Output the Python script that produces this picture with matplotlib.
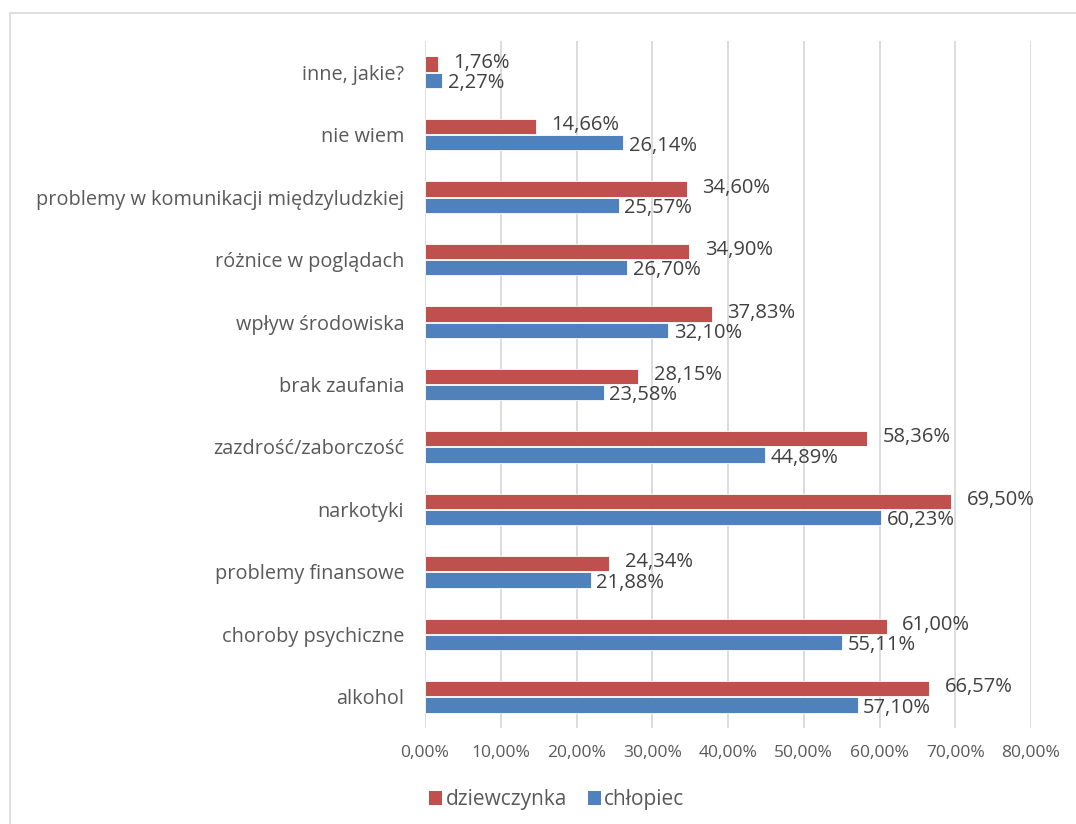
import matplotlib.pyplot as plt
from matplotlib.patches import Rectangle, Patch
import numpy as np

kategorie = ["alkohol", "choroby psychiczne", "problemy finansowe", "narkotyki",
             "zazdrość/zaborczość", "brak zaufania", "wpływ środowiska",
             "różnice w poglądach", "problemy w komunikacji międzyludzkiej",
             "nie wiem", "inne, jakie?"]
dziewczynka = [66.57, 61.00, 24.34, 69.50, 58.36, 28.15, 37.83, 34.90, 34.60, 14.66, 1.76]
chlopiec = [57.10, 55.11, 21.88, 60.23, 44.89, 23.58, 32.10, 26.70, 25.57, 26.14, 2.27]
ticks = [0, 10, 20, 30, 40, 50, 60, 70, 80]

czerwony = "#C0504D"
niebieski = "#4F81BD"
szary_txt = "#595959"

plt.rcParams['font.family'] = ['Open Sans', 'DejaVu Sans']

fig = plt.figure(figsize=(10.76, 8.24), dpi=100)
ax = fig.add_axes([425 / 1076, 1 - 728 / 824, (1031 - 425) / 1076, (728 - 41) / 824])

y = np.arange(len(kategorie))
h = 0.245
ax.barh(y + 0.13, dziewczynka, height=h, color=czerwony, edgecolor="white", linewidth=0.6,
        label="dziewczynka", zorder=3)
ax.barh(y - 0.13, chlopiec, height=h, color=niebieski, edgecolor="white", linewidth=0.6,
        label="chłopiec", zorder=3)

for yi, v in zip(y, dziewczynka):
    ax.annotate(f"{v:.2f}%".replace(".", ","), (v, yi + 0.13), xytext=(11, 1),
                textcoords="offset points", va="center", ha="left", fontsize=14.5, color="#404040")
for yi, v in zip(y, chlopiec):
    ax.annotate(f"{v:.2f}%".replace(".", ","), (v, yi - 0.13), xytext=(4, -2),
                textcoords="offset points", va="center", ha="left", fontsize=14.5, color="#404040")

ax.set_xlim(0, 80)
ax.set_ylim(-0.5, len(kategorie) - 0.5)
ax.set_xticks(ticks)
ax.set_xticklabels([f"{t:.2f}%".replace(".", ",") for t in ticks], fontsize=12.5, color=szary_txt)
ax.set_yticks(y)
ax.set_yticklabels(kategorie, fontsize=14.3, color=szary_txt)
ax.tick_params(axis="both", length=0)
ax.tick_params(axis="y", pad=15)
ax.tick_params(axis="x", pad=12)
for s in ax.spines.values():
    s.set_visible(False)
ax.grid(axis="x", color="#D9D9D9", linewidth=1.3, zorder=0)
ax.set_axisbelow(True)

uchwyty = [Patch(facecolor=czerwony, label="dziewczynka"), Patch(facecolor=niebieski, label="chłopiec")]
fig.legend(handles=uchwyty, loc="center left", bbox_to_anchor=(410 / 1076, 1 - 800 / 824),
           ncol=2, frameon=False, fontsize=15, handlelength=0.65, handleheight=0.65,
           handletextpad=0.15, columnspacing=1.0, labelcolor=szary_txt)

ramka = Rectangle((10 / 1076, -0.2), 1.2, 1.2 - 13 / 824, transform=fig.transFigure,
                  fill=False, edgecolor="#D9D9D9", linewidth=1.2, clip_on=False)
fig.patches.append(ramka)

fig.savefig("out.png", dpi=100)
